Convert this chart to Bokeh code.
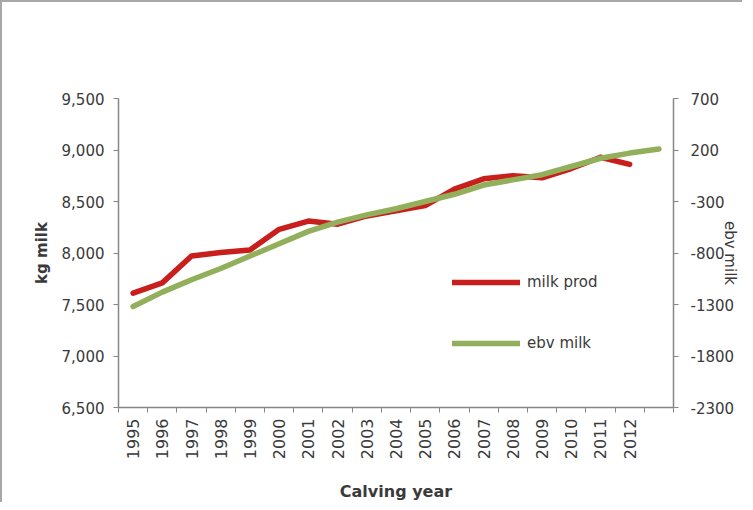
from math import pi
from bokeh.plotting import figure
from bokeh.models import (Range1d, LinearAxis, FixedTicker, NumeralTickFormatter,
                          PrintfTickFormatter, Legend, LegendItem, ColumnDataSource)
from bokeh.embed import file_html
from bokeh.resources import INLINE

# ---- data ----
years = ["1995", "1996", "1997", "1998", "1999", "2000", "2001", "2002", "2003",
         "2004", "2005", "2006", "2007", "2008", "2009", "2010", "2011", "2012"]
milk_prod = [7610, 7710, 7970, 8005, 8030, 8230, 8310, 8280, 8360,
             8410, 8460, 8620, 8720, 8750, 8730, 8820, 8930, 8860]
ebv_milk = [-1320, -1180, -1060, -950, -830, -710, -590, -500, -430,
            -370, -300, -230, -140, -90, -40, 40, 120, 170, 210]
left_ticks = [6500, 7000, 7500, 8000, 8500, 9000, 9500]
right_ticks = [-2300, -1800, -1300, -800, -300, 200, 700]

n_cat = len(ebv_milk)
FONT = "DejaVu Sans"
AX = "#868686"
TXT = "#3a3a3a"

p = figure(width=742, height=502, output_backend="svg", toolbar_location=None,
           x_range=Range1d(0, n_cat), y_range=Range1d(left_ticks[0], left_ticks[-1]),
           min_border_left=116, min_border_right=71, min_border_top=96, min_border_bottom=97,
           x_axis_location="below", y_axis_location="left")
p.styles = {"border-left": "2px solid #a8a8a8", "border-top": "2px solid #a8a8a8"}
p.outline_line_color = None
p.grid.visible = False
p.background_fill_color = "white"
p.border_fill_color = "white"

p.extra_y_ranges = {"ebv": Range1d(right_ticks[0], right_ticks[-1])}

src_m = ColumnDataSource(dict(x=[i + 0.5 for i in range(len(milk_prod))], y=milk_prod))
src_e = ColumnDataSource(dict(x=[i + 0.5 for i in range(len(ebv_milk))], y=ebv_milk))

r_m = p.line("x", "y", source=src_m, line_color="#c81e1c", line_width=5.5, line_join="round", line_cap="round")
r_e = p.line("x", "y", source=src_e, y_range_name="ebv", line_color="#92b05b", line_width=5.5,
             line_join="round", line_cap="round")

# x axis
xa = p.xaxis[0]
xa.ticker = FixedTicker(ticks=[i + 0.5 for i in range(len(years))],
                        minor_ticks=[float(i) for i in range(n_cat + 1)])
xa.major_label_overrides = {i + 0.5: y for i, y in enumerate(years)}
xa.major_label_orientation = pi / 2
xa.major_tick_line_color = None
xa.major_tick_in = 0
xa.major_tick_out = 0
xa.minor_tick_in = 0
xa.minor_tick_out = 5
xa.minor_tick_line_color = AX
xa.axis_line_color = AX
xa.axis_line_width = 1.5
xa.major_label_standoff = 6
xa.major_label_text_font = FONT
xa.major_label_text_font_size = "16px"
xa.major_label_text_color = TXT
xa.axis_label = "Calving year"
xa.axis_label_text_font = FONT
xa.axis_label_text_font_size = "16px"
xa.axis_label_text_font_style = "bold"
xa.axis_label_text_color = TXT
xa.axis_label_standoff = 20

# left axis
ya = p.yaxis[0]
ya.ticker = FixedTicker(ticks=left_ticks)
ya.formatter = NumeralTickFormatter(format="0,0")
ya.major_tick_in = 0
ya.major_tick_out = 5
ya.minor_tick_line_color = None
ya.major_tick_line_color = AX
ya.axis_line_color = AX
ya.axis_line_width = 1.5
ya.major_label_standoff = 9
ya.major_label_text_font = FONT
ya.major_label_text_font_size = "15px"
ya.major_label_text_color = TXT
ya.axis_label = "kg milk"
ya.axis_label_text_font = FONT
ya.axis_label_text_font_size = "15px"
ya.axis_label_text_font_style = "bold"
ya.axis_label_text_color = TXT
ya.axis_label_standoff = 8

# right axis
ra = LinearAxis(y_range_name="ebv", ticker=FixedTicker(ticks=right_ticks),
                formatter=PrintfTickFormatter(format="%d"))
ra.major_tick_in = 0
ra.major_tick_out = 5
ra.minor_tick_line_color = None
ra.major_tick_line_color = AX
ra.axis_line_color = AX
ra.axis_line_width = 1.5
ra.major_label_standoff = 12
ra.major_label_text_font = FONT
ra.major_label_text_font_size = "15px"
ra.major_label_text_color = TXT
ra.axis_label = "ebv milk"
ra.axis_label_orientation = "vertical"
ra.axis_label_text_font = FONT
ra.axis_label_text_font_size = "15px"
ra.axis_label_text_font_style = "normal"
ra.axis_label_text_color = TXT
ra.axis_label_standoff = -16
p.add_layout(ra, "right")

legend = Legend(items=[LegendItem(label="milk prod", renderers=[r_m]),
                       LegendItem(label="ebv milk", renderers=[r_e])],
                location=(334, 54), orientation="vertical",
                glyph_width=68, glyph_height=20, label_height=20, spacing=41,
                padding=0, margin=0, label_standoff=7,
                border_line_color=None, background_fill_alpha=0,
                label_text_font=FONT, label_text_font_size="15px", label_text_color=TXT)
p.add_layout(legend, "center")

open("out.html", "w").write(file_html(p, INLINE))
